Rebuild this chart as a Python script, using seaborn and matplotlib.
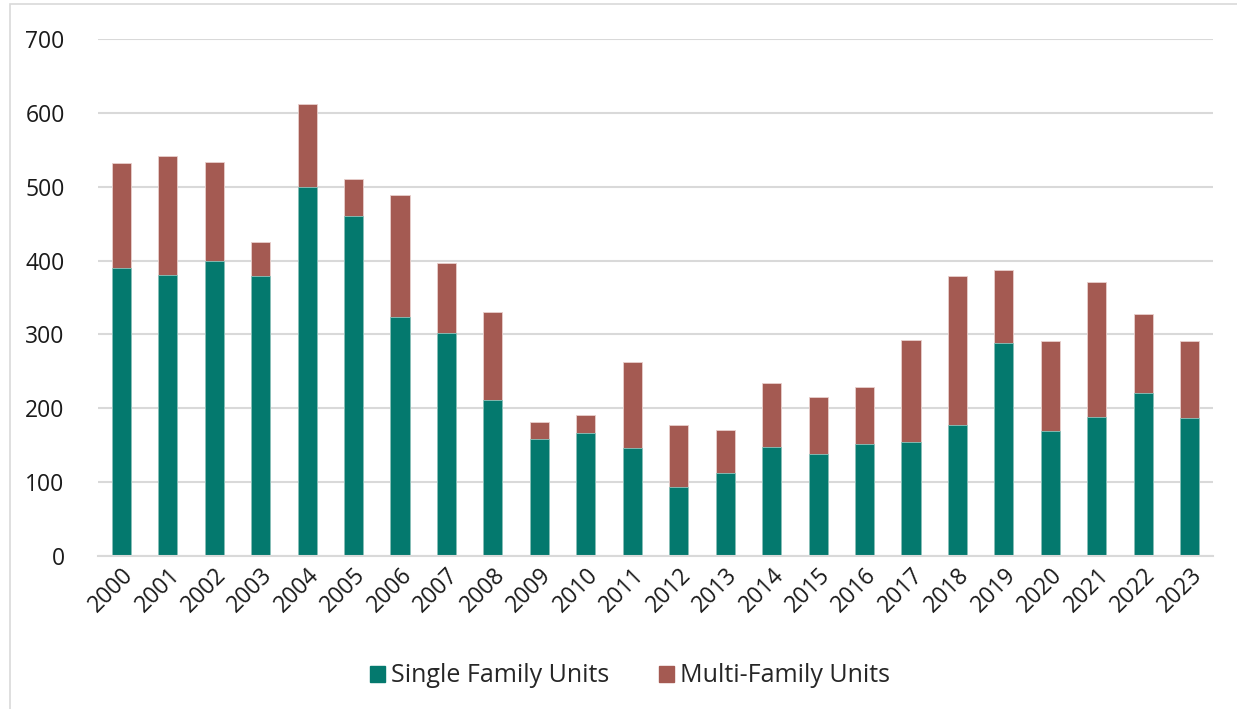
import numpy as np
import pandas as pd
import matplotlib
matplotlib.use("Agg")
import matplotlib.pyplot as plt
import seaborn as sns
from matplotlib.patches import Patch, Rectangle

years = [str(y) for y in range(2000, 2024)]
single_family = [390, 380, 399, 379, 500, 460, 324, 302, 211, 159, 167, 146,
                 94, 113, 148, 138, 152, 155, 177, 288, 169, 188, 221, 187]
multi_family = [142, 161, 134, 46, 112, 50, 165, 95, 120, 22, 24, 117,
                83, 57, 86, 77, 77, 138, 202, 99, 122, 183, 107, 104]

teal = "#04796E"
brick = "#A45A52"

df = pd.DataFrame({"year": years, "sf": single_family, "mf": multi_family})
df["total"] = df["sf"] + df["mf"]

sns.set_style("white")
plt.rcParams["font.family"] = ["Open Sans", "DejaVu Sans"]

fig = plt.figure(figsize=(12.37, 7.09), dpi=100)
ax = fig.add_axes([98 / 1237, 1 - 556 / 709, (1213 - 98) / 1237, (556 - 39) / 709])

# stacked: total behind, single family in front
sns.barplot(data=df, x="year", y="total", color=brick, width=0.41, ax=ax,
            edgecolor="#e8cfcc", linewidth=0.6, saturation=1)
sns.barplot(data=df, x="year", y="sf", color=teal, width=0.41, ax=ax,
            edgecolor="#8cc4bd", linewidth=0.6, saturation=1)

ax.set_ylim(0, 700)
ax.set_xlim(-0.5, len(years) - 0.5)
ax.set_yticks(range(0, 701, 100))
ax.yaxis.grid(True, color="#d9d9d9", linewidth=1.5)
ax.set_axisbelow(True)
for s in ["left", "right", "top"]:
    ax.spines[s].set_visible(False)
ax.spines["bottom"].set_color("#d9d9d9")
ax.spines["bottom"].set_linewidth(1.5)
ax.set_xlabel("")
ax.set_ylabel("")
ax.tick_params(axis="y", length=0, pad=24, labelsize=16.5, labelcolor="#1a1a1a")
ax.tick_params(axis="x", length=0, pad=5, labelsize=16.5, labelcolor="#1a1a1a")
plt.setp(ax.get_xticklabels(), rotation=45, ha="right", rotation_mode="anchor")

handles = [Patch(color=teal, label="Single Family Units"),
           Patch(color=brick, label="Multi-Family Units")]
fig.legend(handles=handles, loc="center", bbox_to_anchor=(630 / 1237, 1 - 676 / 709),
           ncol=2, frameon=False, fontsize=18, handlelength=0.6, handleheight=0.6,
           handletextpad=0.25, columnspacing=2.0)

fig.patches.append(Rectangle((10 / 1237, -0.01), 1.2, 1 - 4 / 709 + 0.01,
                             transform=fig.transFigure, fill=False,
                             edgecolor="#d9d9d9", linewidth=1.2))

fig.savefig("out.png", dpi=100)
